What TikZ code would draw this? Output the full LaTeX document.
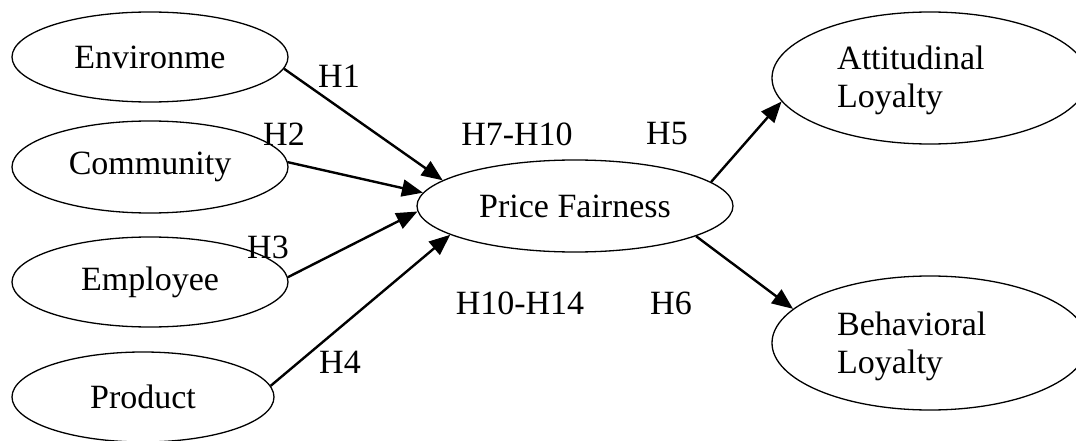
\documentclass[tikz,border=0pt]{standalone}
\usepackage{fontspec}
\setmainfont{Liberation Serif}
\usetikzlibrary{shapes.geometric,arrows.meta}
\begin{document}
\begin{tikzpicture}[x=1pt,y=-1pt,
  every node/.style={font=\fontsize{34}{38}\selectfont},
  oval/.style={ellipse,draw,line width=1.3pt,inner sep=0pt},
  lbl/.style={inner sep=0pt},
  arr/.style={line width=2.4pt,-{Triangle[length=21pt,width=17pt]}}]
\useasboundingbox (0,0) rectangle (1076,441);
\node[oval,minimum width=276pt,minimum height=90pt] (env) at (150,57) {Environme};
\node[oval,minimum width=276pt,minimum height=92pt] (com) at (150,167) {Community};
\node[oval,minimum width=276pt,minimum height=90pt] (emp) at (150,282) {Employee};
\node[oval,minimum width=262pt,minimum height=90pt] (prod) at (143,397) {Product};
\node[oval,minimum width=316pt,minimum height=92pt] (pf) at (575,206) {Price Fairness};
\node[oval,minimum width=316pt,minimum height=132pt] (att) at (930,78) {};
\node[oval,minimum width=316pt,minimum height=134pt] (beh) at (930,343) {};
\node[lbl,anchor=west,align=left] (attT) at (837,80) {Attitudinal\\Loyalty};
\node[lbl,anchor=west,align=left] (behT) at (837,346) {Behavioral\\Loyalty};
\draw[arr] (env.-5) -- (pf.169);
\draw[arr] (com.2) -- (pf.175);
\draw[arr] (emp.2) -- (pf.182);
\draw[arr] (prod.5) -- (pf.193);
\draw[arr] (pf.10) -- (att.189);
\draw[arr] (pf.-14) -- (beh.166);
\node[lbl] (h1) at (339,76) {H1};
\node[lbl] (h2) at (284,134) {H2};
\node[lbl] (h3) at (268,247) {H3};
\node[lbl] (h4) at (340,362) {H4};
\node[lbl] (h710) at (517,134) {H7-H10};
\node[lbl] (h5) at (667,134) {H5};
\node[lbl] (h1014) at (520,303) {H10-H14};
\node[lbl] (h6) at (671,303) {H6};
\end{tikzpicture}
\end{document}
